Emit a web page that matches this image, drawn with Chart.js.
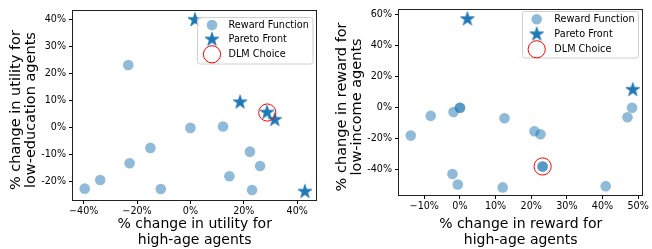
<!DOCTYPE html>
<html><head><meta charset="utf-8">
<script src="https://cdn.jsdelivr.net/npm/chart.js@4.4.1/dist/chart.umd.min.js"></script>
<style>
html,body{margin:0;padding:0;background:#fff;}
#wrap{position:relative;width:652px;height:249px;overflow:hidden;}
.c{position:absolute;top:0;width:326px;height:249px;}
</style></head><body>
<div id="wrap">
<div class="c" style="left:0"><canvas id="c1" width="326" height="249"></canvas></div>
<div class="c" style="left:326px"><canvas id="c2" width="326" height="249"></canvas></div>
</div>
<script>
// ---------- data: left panel (utility) ----------
const leftRewardX = [-23.3, 0.0, 12.2, -15.0, -22.8, -33.8, -39.6, -11.1, 14.6, 22.3, 26.1, 23.1];
const leftRewardY = [23.3, 0.0, 0.5, -7.4, -13.1, -19.3, -22.5, -22.6, -17.9, -8.8, -14.1, -23.0];
const leftParetoX = [1.7, 18.6, 28.7, 31.6, 42.9];
const leftParetoY = [40.0, 9.5, 5.7, 3.0, -23.6];
const leftDlmX = [28.8];
const leftDlmY = [5.7];
const leftXTicks = [-40, -20, 0, 20, 40];
const leftXTickLabels = ["\u221240%", "\u221220%", "0%", "20%", "40%"];
const leftYTicks = [40, 30, 20, 10, 0, -10, -20];
const leftYTickLabels = ["40%", "30%", "20%", "10%", "0%", "-10%", "-20%"];
const leftXTitle = ["% change in utility for", "high-age agents"];
const leftYTitle = ["% change in utility for", "low-education agents"];

// ---------- data: right panel (reward) ----------
const rightRewardX = [-13.8, -8.2, -1.8, 0.0, 0.0, 12.5, 20.9, 22.6, 23.2, 23.2, -2.1, -0.6, 12.0, 40.9, 47.0, 48.3];
const rightRewardY = [-17.9, -5.2, -2.7, 0.0, 0.0, -6.7, -15.1, -17.0, -37.8, -37.8, -42.7, -49.4, -51.3, -50.5, -6.1, 0.0];
const rightParetoX = [2.1, 48.5];
const rightParetoY = [57.2, 11.6];
const rightDlmX = [23.2];
const rightDlmY = [-37.8];
const rightXTicks = [-10, 0, 10, 20, 30, 40, 50];
const rightXTickLabels = ["\u221210%", "0%", "10%", "20%", "30%", "40%", "50%"];
const rightYTicks = [60, 40, 20, 0, -20, -40];
const rightYTickLabels = ["60%", "40%", "20%", "0%", "-20%", "-40%"];
const rightXTitle = ["% change in reward for", "high-age agents"];
const rightYTitle = ["% change in reward for", "low-income agents"];

const legendLabels = ["Reward Function", "Pareto Front", "DLM Choice"];

// ---------- styling ----------
const BLUE = '#1f77b4';
const BLUE_A = 'rgba(31,119,180,0.5)';
const FONT = 'DejaVu Sans';

function makeStar(r, color) {
  const s = 2 * Math.ceil(r + 1);
  const c = document.createElement('canvas');
  c.width = s; c.height = s;
  const g = c.getContext('2d');
  const cx = s / 2, cy = s / 2;
  g.beginPath();
  for (let i = 0; i < 10; i++) {
    const rr = i % 2 === 0 ? r : r * 0.381966;
    const a = -Math.PI / 2 + i * Math.PI / 5;
    g.lineTo(cx + rr * Math.cos(a), cy + rr * Math.sin(a));
  }
  g.closePath();
  g.fillStyle = color; g.fill();
  g.lineWidth = 0.8; g.strokeStyle = color; g.stroke();
  return c;
}
const STAR = makeStar(7.3, BLUE);

const pts = (xs, ys) => xs.map((x, i) => ({x: x, y: ys[i]}));

// shift rotated y-title slightly downward (as in the reference) by padding the end of each line
const padTitle = lines => lines.map(t => t + '  ');

const framePlugin = {
  id: 'frame',
  afterDatasetsDraw(chart) {
    const {ctx, chartArea: a} = chart;
    ctx.save();
    ctx.strokeStyle = '#222';
    ctx.lineWidth = 1;
    ctx.strokeRect(Math.round(a.left) - 0.5, Math.round(a.top) - 0.5,
                   Math.round(a.right - a.left) + 1, Math.round(a.bottom - a.top) + 1);
    ctx.restore();
  }
};

function legendPlugin(box) {
  return {
    id: 'boxLegend',
    afterDraw(chart) {
      const ctx = chart.ctx;
      ctx.save();
      const r = 2.5;
      const {x, y, w, h} = box;
      ctx.beginPath();
      ctx.moveTo(x + r, y);
      ctx.arcTo(x + w, y, x + w, y + h, r);
      ctx.arcTo(x + w, y + h, x, y + h, r);
      ctx.arcTo(x, y + h, x, y, r);
      ctx.arcTo(x, y, x + w, y, r);
      ctx.closePath();
      ctx.fillStyle = 'rgba(255,255,255,0.8)';
      ctx.fill();
      ctx.strokeStyle = '#d0d0d0';
      ctx.lineWidth = 1;
      ctx.stroke();
      const mx = box.mx, tx = box.tx;
      const rows = box.rows;
      ctx.beginPath(); ctx.arc(mx, rows[0], 5.3, 0, Math.PI * 2);
      ctx.fillStyle = BLUE_A; ctx.fill();
      ctx.drawImage(STAR, mx - STAR.width / 2, rows[1] - STAR.height / 2);
      ctx.beginPath(); ctx.arc(mx, rows[2], 8.6, 0, Math.PI * 2);
      ctx.strokeStyle = '#ff0000'; ctx.lineWidth = 1; ctx.stroke();
      ctx.fillStyle = '#000';
      ctx.font = '9.7px "' + FONT + '"';
      ctx.textBaseline = 'middle';
      ctx.textAlign = 'left';
      legendLabels.forEach((t, i) => ctx.fillText(t, tx, rows[i]));
      ctx.restore();
    }
  };
}

function makeChart(id, cfg) {
  const tickFont = {family: FONT, size: 9.6};
  return new Chart(document.getElementById(id), {
    type: 'scatter',
    data: {
      datasets: [
        {label: legendLabels[2], data: pts(cfg.dlmX, cfg.dlmY), order: 1,
         pointStyle: 'circle', pointRadius: 8.6, pointHoverRadius: 8.6,
         backgroundColor: 'rgba(0,0,0,0)', borderColor: '#ff0000', borderWidth: 1, clip: 0},
        {label: legendLabels[1], data: pts(cfg.paretoX, cfg.paretoY), order: 2,
         pointStyle: STAR, pointRadius: 7, backgroundColor: BLUE, borderWidth: 0, clip: 0},
        {label: legendLabels[0], data: pts(cfg.rewardX, cfg.rewardY), order: 3,
         pointStyle: 'circle', pointRadius: 5.3, pointHoverRadius: 5.3,
         backgroundColor: BLUE_A, borderWidth: 0, clip: 0}
      ]
    },
    options: {
      responsive: false, animation: false, devicePixelRatio: 1,
      events: [],
      layout: {padding: {top: cfg.top, right: 9, left: 0, bottom: 0}},
      plugins: {legend: {display: false}, tooltip: {enabled: false}},
      scales: {
        x: {
          type: 'linear', min: cfg.xmin, max: cfg.xmax,
          afterBuildTicks: s => { s.ticks = cfg.xTicks.map(v => ({value: v})); },
          afterFit: s => { s.height = cfg.xh; },
          ticks: {callback: (v) => cfg.xLabels[cfg.xTicks.indexOf(v)], font: tickFont, color: '#000',
                  padding: 2, maxRotation: 0, autoSkip: false},
          grid: {display: true, drawOnChartArea: false, drawTicks: true, tickLength: 4,
                 color: '#000', tickColor: '#000', tickWidth: 1},
          border: {display: false},
          title: {display: true, text: cfg.xTitle, color: '#000',
                  font: {family: FONT, size: 14, lineHeight: '15.4px'}, padding: {top: 0, bottom: 1.2}}
        },
        y: {
          type: 'linear', min: cfg.ymin, max: cfg.ymax,
          afterBuildTicks: s => { s.ticks = cfg.yTicks.map(v => ({value: v})); },
          afterFit: s => { s.width = 73; },
          ticks: {callback: (v) => cfg.yLabels[cfg.yTicks.indexOf(v)], font: tickFont, color: '#000',
                  padding: 3, autoSkip: false},
          grid: {display: true, drawOnChartArea: false, drawTicks: true, tickLength: 4,
                 color: '#000', tickColor: '#000', tickWidth: 1},
          border: {display: false},
          title: {display: true, text: padTitle(cfg.yTitle), color: '#000',
                  font: {family: FONT, size: 14.5, lineHeight: '15px'}, padding: {top: 9.2, bottom: 0}}
        }
      }
    },
    plugins: [framePlugin, legendPlugin(cfg.legend)]
  });
}

makeChart('c1', {
  rewardX: leftRewardX, rewardY: leftRewardY, paretoX: leftParetoX, paretoY: leftParetoY,
  dlmX: leftDlmX, dlmY: leftDlmY,
  xmin: -44.0, xmax: 47.2, ymin: -26.7, ymax: 43.3,
  xTicks: leftXTicks, xLabels: leftXTickLabels, yTicks: leftYTicks, yLabels: leftYTickLabels,
  xTitle: leftXTitle, yTitle: leftYTitle,
  top: 11, xh: 49,
  legend: {x: 197.5, y: 17.5, w: 115.5, h: 46.5, mx: 212, tx: 228.5, rows: [25, 39.5, 54.3]}
});

makeChart('c2', {
  rewardX: rightRewardX, rewardY: rightRewardY, paretoX: rightParetoX, paretoY: rightParetoY,
  dlmX: rightDlmX, dlmY: rightDlmY,
  xmin: -17.1, xmax: 51.2, ymin: -56.2, ymax: 63.3,
  xTicks: rightXTicks, xLabels: rightXTickLabels, yTicks: rightYTicks, yLabels: rightYTickLabels,
  xTitle: rightXTitle, yTitle: rightYTitle,
  top: 6, xh: 54,
  legend: {x: 196.5, y: 11.5, w: 116, h: 46.5, mx: 210.7, tx: 228.3, rows: [19.3, 34.3, 49.3]}
});
</script>
</body></html>
